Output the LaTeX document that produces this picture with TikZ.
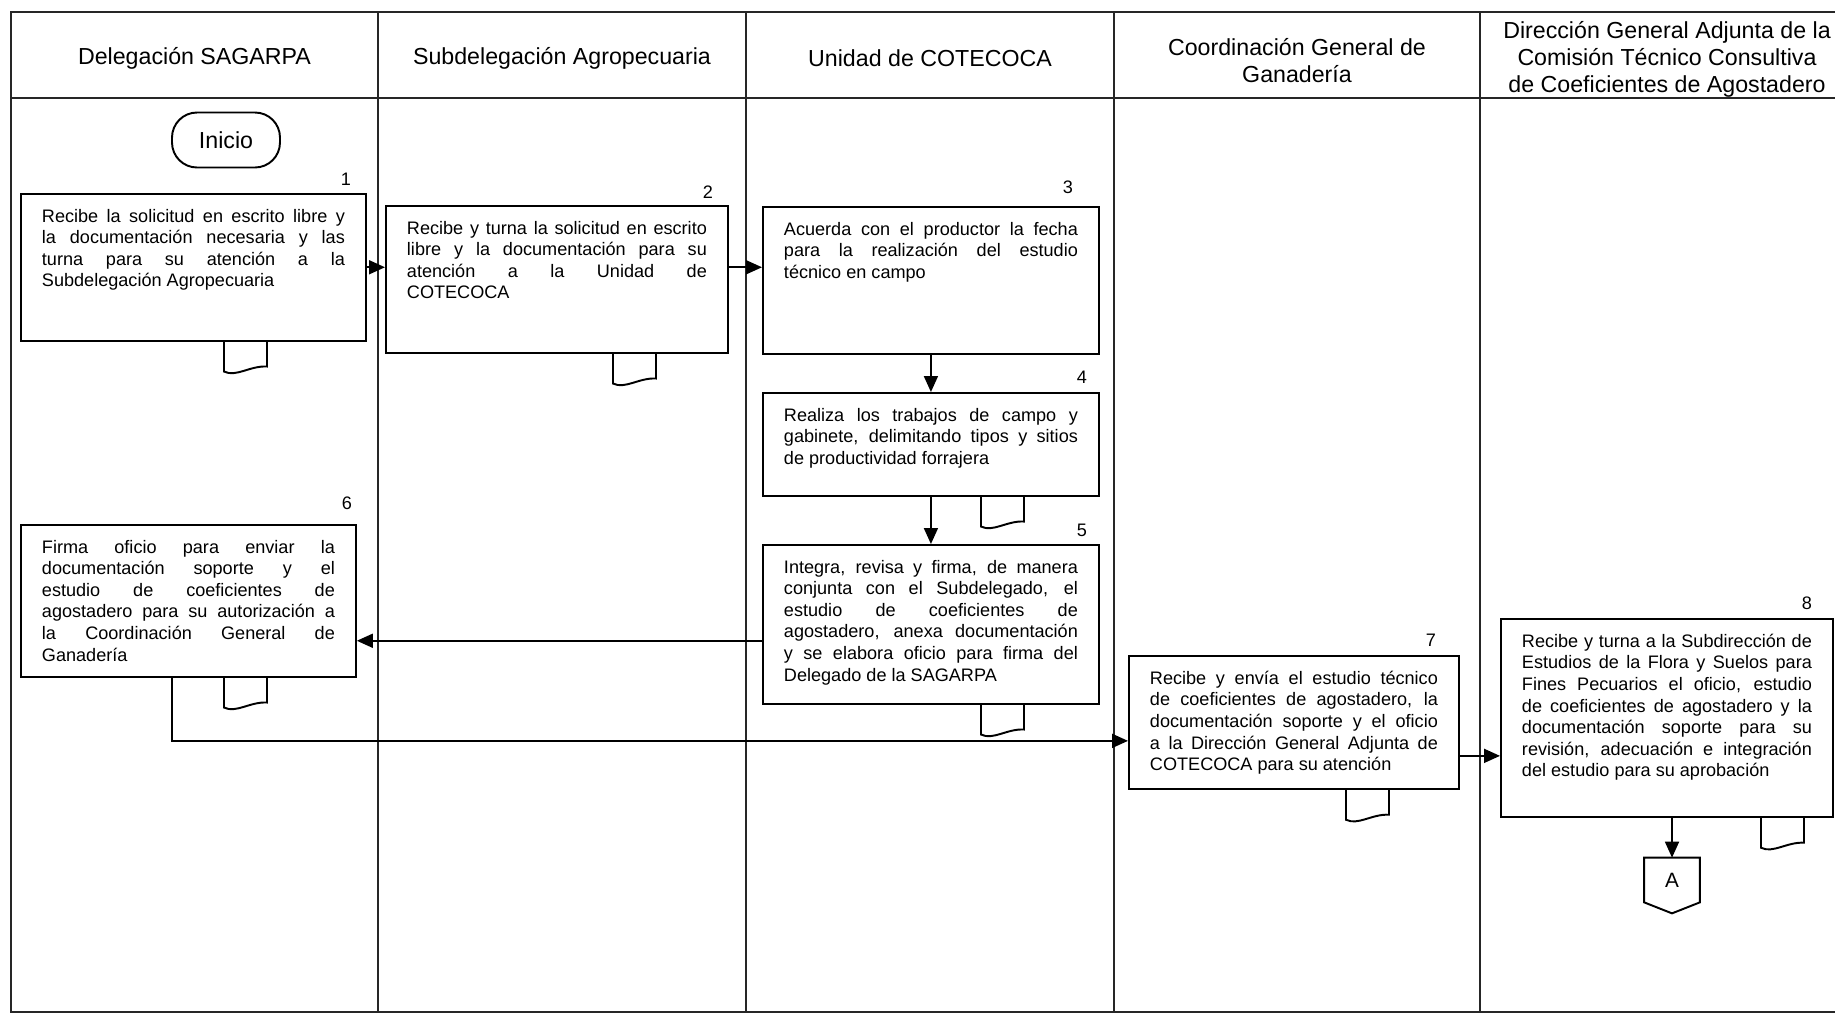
\documentclass[tikz,border=0pt]{standalone}
\usepackage{fontspec}
\setmainfont{Liberation Sans}
\usetikzlibrary{arrows.meta, positioning, calc}
\tolerance=10000
\hyphenpenalty=10000

\begin{document}
\begin{tikzpicture}[
    x=0.02cm, y=-0.02cm,
    lane/.style    ={line width=0.8pt, black!85},
    head/.style    ={align=center, font=\fontsize{13.2}{15.3}\selectfont},
    stepbox/.style ={rectangle, draw, line width=1.1pt, anchor=north west, align=justify, inner xsep=0.42cm, inner ysep=0.3cm, font=\fontsize{10.3}{12.3}\selectfont},
    num/.style     ={font=\fontsize{10.3}{12.3}\selectfont},
    terminal/.style={rectangle, draw, line width=1.1pt, rounded corners=0.5cm, minimum width=2.16cm, minimum height=1.1cm, font=\fontsize{13.2}{15.9}\selectfont},
    arrow/.style   ={-{Triangle[length=3.2mm, width=2.8mm]}, line width=1pt},
    docmark/.pic   ={\draw[line width=1.1pt] (0,0) -- (0,30) .. controls (12,36) and (26,24) .. (43,25) -- (43,0);},
    ]
    \useasboundingbox (0,0) rectangle (1835,1015);

    % --- Lanes ---
    \draw[lane] (1850,12) -- (11,12) -- (11,1012) -- (1850,1012);
    \draw[lane] (11,98) -- (1850,98);
    \draw[lane] (378,12) -- (378,1012);
    \draw[lane] (746,12) -- (746,1012);
    \draw[lane] (1114,12) -- (1114,1012);
    \draw[lane] (1480,12) -- (1480,1012);

    \node[head] (h_del) at (194.5,58) {Delegación SAGARPA};
    \node[head] (h_sub) at (562,58) {Subdelegación Agropecuaria};
    \node[head] (h_cot) at (930,58) {Unidad de COTECOCA};
    \node[head] (h_cgg) at (1297,61) {Coordinación General de\\Ganadería};
    \node[head] (h_dga) at (1667,59) {Dirección General Adjunta de la\\Comisión Técnico Consultiva\\de Coeficientes de Agostadero};

    % --- Steps ---
    \node[terminal] (inicio) at (226,140) {Inicio};

    \node[stepbox, text width=6.06cm, text depth=2.07cm] (p1) at (20,193)
        {Recibe la solicitud en escrito libre y\linebreak la documentación necesaria y las\linebreak turna para su atención a la\linebreak Subdelegación Agropecuaria};
    \node[num] (n1) at (346,179) {1};

    \node[stepbox, text width=6.0cm, text depth=2.07cm] (p2) at (385,205)
        {Recibe y turna la solicitud en escrito\linebreak libre y la documentación para su\linebreak atención a la Unidad de\linebreak COTECOCA};
    \node[num] (n2) at (708,192) {2};

    \node[stepbox, text width=5.88cm, text depth=2.07cm] (p3) at (762,206)
        {Acuerda con el productor la fecha\linebreak para la realización del estudio\linebreak técnico en campo};
    \node[num] (n3) at (1068,187) {3};

    \node[stepbox, text width=5.88cm, text depth=1.19cm] (p4) at (762,392)
        {Realiza los trabajos de campo y\linebreak gabinete, delimitando tipos y sitios\linebreak de productividad forrajera};
    \node[num] (n4) at (1082,377) {4};

    \node[stepbox, text width=5.88cm, text depth=2.31cm] (p5) at (762,544)
        {Integra, revisa y firma, de manera\linebreak conjunta con el Subdelegado, el\linebreak estudio de coeficientes de\linebreak agostadero, anexa documentación\linebreak y se elabora oficio para firma del\linebreak Delegado de la SAGARPA};
    \node[num] (n5) at (1082,530) {5};

    \node[stepbox, text width=5.86cm, text depth=2.17cm] (p6) at (20,524)
        {Firma oficio para enviar la\linebreak documentación soporte y el\linebreak estudio de coeficientes de\linebreak agostadero para su autorización a\linebreak la Coordinación General de\linebreak Ganadería};
    \node[num] (n6) at (347,503) {6};

    \node[stepbox, text width=5.76cm, text depth=1.79cm] (p7) at (1128,655)
        {Recibe y envía el estudio técnico\linebreak de coeficientes de agostadero, la\linebreak documentación soporte y el oficio\linebreak a la Dirección General Adjunta de\linebreak COTECOCA para su atención};
    \node[num] (n7) at (1431,640) {7};

    \node[stepbox, text width=5.8cm, text depth=3.09cm] (p8) at (1500,618)
        {Recibe y turna a la Subdirección de\linebreak Estudios de la Flora y Suelos para\linebreak Fines Pecuarios el oficio, estudio\linebreak de coeficientes de agostadero y la\linebreak documentación soporte para su\linebreak revisión, adecuación e integración\linebreak del estudio para su aprobación};
    \node[num] (n8) at (1807,603) {8};

    % --- Off-page connector ---
    \node[minimum width=1.1cm, minimum height=0.88cm, inner sep=0pt, font=\fontsize{11.8}{14}\selectfont] (conn_A) at (1672,880) {\raisebox{-0.9mm}{A}};
    \draw[line width=1.1pt] (conn_A.north west) -- (conn_A.north east) -- (conn_A.south east)
        -- ($(conn_A.south)+(0,11)$) -- (conn_A.south west) -- cycle;

    % --- Documents ---
    \pic at ($(p1.south west)+(204,0)$) {docmark};
    \pic at ($(p2.south west)+(228,0)$) {docmark};
    \pic at ($(p4.south west)+(219,0)$) {docmark};
    \pic at ($(p5.south west)+(219,0)$) {docmark};
    \pic at ($(p6.south west)+(204,0)$) {docmark};
    \pic at ($(p7.south west)+(218,0)$) {docmark};
    \pic at ($(p8.south west)+(261,0)$) {docmark};

    % --- Connections ---
    \draw[arrow] (p1.east) -- (p1.east -| p2.west);
    \draw[arrow] (p2.east |- p1.east) -- (p3.west |- p1.east);
    \draw[arrow] (p3) -- (p4);
    \draw[arrow] (p4) -- (p5);
    \draw[arrow] ([yshift=-3.3mm]p5.west) -- ([yshift=-3.3mm]p5.west -| p6.east);
    \draw[arrow] ([xshift=-3.3mm]p6.south) |- ([yshift=-3.7mm]p7.west);
    \draw[arrow] ([yshift=-6.7mm]p7.east) -- ([yshift=-6.7mm]p7.east -| p8.west);
    \draw[arrow] (conn_A.north |- p8.south) -- (conn_A.north);

\end{tikzpicture}
\end{document}
